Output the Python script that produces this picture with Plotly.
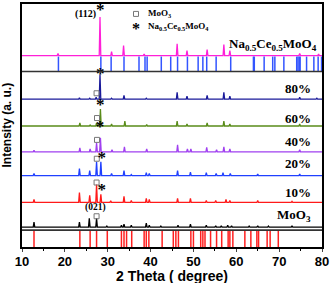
import plotly.graph_objects as go

# ---------------- data ----------------
x_ticks = [10, 20, 30, 40, 50, 60, 70, 80]

names = ["MoO3", "10%", "20%", "40%", "60%", "80%", "Na0.5Ce0.5MoO4"]
colors = ["#000000", "#ff1a1a", "#2040ff", "#a040f0", "#5a8c1a", "#1a1a9a", "#ff20d8"]
offsets = [20, 45, 72, 96, 122, 149, 193]   # vertical offsets of each pattern (a.u.)

peaks_pos = {
    "MoO3": [12.8, 23.4, 25.7, 27.4, 29.8, 33.2, 33.8, 35.5, 39.0, 39.7, 42.4, 46.4, 49.3, 53.0, 55.2, 56.5, 58.0, 58.9, 63.0, 65.0, 67.5, 73.0],
    "10%": [12.8, 23.4, 25.8, 27.4, 28.4, 30.7, 33.8, 35.5, 39.0, 39.7, 46.3, 49.3, 53.0, 55.2, 57.6, 58.5, 65.0, 73.0],
    "20%": [12.8, 23.4, 25.8, 27.4, 28.4, 30.9, 33.8, 35.5, 39.0, 39.7, 46.3, 49.3, 53.0, 55.3, 56.9, 58.6, 65.0, 74.8],
    "40%": [12.8, 23.5, 25.9, 27.4, 28.3, 31.0, 33.9, 39.1, 46.3, 48.6, 49.4, 53.1, 55.4, 57.1, 58.5, 74.8],
    "60%": [23.5, 25.9, 27.4, 28.3, 30.9, 34.0, 39.1, 46.2, 48.5, 53.2, 57.1, 58.5, 74.8],
    "80%": [23.4, 25.8, 27.3, 28.2, 30.9, 33.8, 39.0, 46.2, 48.5, 53.2, 57.1, 58.5, 74.8, 78.8],
    "Na0.5Ce0.5MoO4": [18.4, 28.2, 30.9, 33.7, 38.5, 46.2, 48.5, 53.2, 57.1, 58.5, 74.8, 79.2],
}
peaks_int = {
    "MoO3": [5, 5, 9, 9, 1, 2, 3, 2, 4, 2, 1, 2, 3, 2, 1.5, 1.5, 2, 1.5, 1, 1.5, 1, 1.5],
    "10%": [3, 10, 7, 18, 8, 1.5, 6, 2, 4, 3, 4, 4, 2, 2, 3, 2, 2, 1],
    "20%": [2, 7, 5, 14, 14, 2, 5, 1, 3, 2, 5, 3.5, 3, 2, 3, 2, 1.5, 1.5],
    "40%": [1.5, 4, 3, 9, 14, 2, 5, 3, 7, 3, 3, 4.5, 2, 5, 3, 2],
    "60%": [3, 1, 3, 17, 2, 5, 1.5, 5, 2, 3, 5, 2, 2],
    "80%": [1.5, 1, 2, 25, 1, 4, 1, 7, 3, 4, 7, 3, 2, 1],
    "Na0.5Ce0.5MoO4": [2, 39, 4, 10, 1.5, 12, 5, 6, 11, 5, 2, 1.5],
}

# reference stick patterns
ref_ncmo = [18.5, 28.4, 30.8, 33.8, 37.3, 38.7, 39.2, 42.5, 44.7, 46.3, 48.6, 51.1, 52.2, 53.1,
            55.3, 58.7, 64.0, 64.2, 66.5, 68.5, 69.0, 71.1, 74.1, 74.4, 74.7, 74.9, 76.4, 78.1, 79.1, 79.9]
ref_moo3 = [12.8, 23.5, 25.9, 27.4, 29.9, 33.2, 33.8, 34.4, 35.6, 38.5, 39.0, 39.6, 42.7,
            45.3, 45.9, 46.5, 49.4, 50.0, 51.7, 52.2, 52.7, 54.0, 55.4, 56.6, 58.1, 58.5, 59.2,
            62.0, 63.4, 64.8, 65.2, 67.2, 67.9, 69.8]

# phase markers
sq_x = [27.4, 27.4, 27.45, 27.5, 27.5, 27.4]
sq_y = [31, 65, 89, 108, 130, 155]
star_x = [28.6, 28.6, 28.2, 28.25, 28.25, 28.25]
star_y = [57, 89, 120, 142, 174, 238]

# ---------------- figure ----------------
fig = go.Figure()

W = 0.18
for name, col, off in zip(names, colors, offsets):
    xs, ys = [10], [off]
    for p, h in sorted(zip(peaks_pos[name], peaks_int[name])):
        xs += [p - W, p, p + W]
        ys += [off, off + h, off]
    xs.append(80)
    ys.append(off)
    fig.add_trace(go.Scatter(x=xs, y=ys, mode="lines", line=dict(color=col, width=1.3),
                             showlegend=False, hoverinfo="skip"))

def sticks(pos, y0, y1, col):
    xs, ys = [], []
    for p in pos:
        xs += [p, p, None]
        ys += [y0, y1, None]
    fig.add_trace(go.Scatter(x=xs, y=ys, mode="lines", line=dict(color=col, width=1.5),
                             showlegend=False, hoverinfo="skip"))

sticks(ref_ncmo, 177, 192, "#3355ff")
sticks(ref_moo3, 0, 17, "#ff2020")

# separators
for yv in [177, 17]:
    fig.add_shape(type="line", xref="paper", x0=0, x1=1, y0=yv, y1=yv,
                  line=dict(color="#333333", width=1.6))

fig.add_trace(go.Scatter(x=sq_x, y=sq_y, mode="markers",
                         marker=dict(symbol="square-open", size=5, color="#777777", line=dict(width=1)),
                         showlegend=False, hoverinfo="skip"))
fig.add_trace(go.Scatter(x=star_x, y=star_y, mode="text", text=["*"] * len(star_x), cliponaxis=False,
                         textfont=dict(family="Liberation Serif", size=17, color="black", weight="bold"),
                         textposition="middle center", showlegend=False, hoverinfo="skip"))

serif = "Liberation Serif"
def label(x, y, txt, size=12, anchor="center"):
    fig.add_annotation(x=x, y=y, text=txt, showarrow=False, xanchor=anchor, yanchor="middle",
                       font=dict(family=serif, size=size, color="black", weight="bold"))

label(77.8, 160, "80%", 13, "right")
label(77.8, 130, "60%", 13, "right")
label(77.8, 106, "40%", 13, "right")
label(77.8, 84, "20%", 13, "right")
label(77.8, 55, "10%", 13, "right")
label(78.0, 32, "MoO<sub>3</sub>", 13, "right")
label(79.4, 204, "Na<sub>0.5</sub>Ce<sub>0.5</sub>MoO<sub>4</sub>", 13, "right")
label(24.8, 235, "(112)", 10)
label(27.1, 40, "(021)", 9.5)

# legend (text)
fig.add_trace(go.Scatter(x=[36.6], y=[235], mode="markers",
                         marker=dict(symbol="square-open", size=5, color="#777777", line=dict(width=1)),
                         showlegend=False, hoverinfo="skip"))
label(38.9, 235, "MoO<sub>3</sub>", 9, "left")
fig.add_annotation(x=36.6, y=220, text="*", showarrow=False,
                   font=dict(family=serif, size=16, color="black", weight="bold"))
label(38.9, 222, "Na<sub>0.5</sub>Ce<sub>0.5</sub>MoO<sub>4</sub>", 9, "left")

fig.add_annotation(xref="paper", yref="paper", x=0, y=0.5, xanchor="right", yanchor="middle",
                   xshift=-7, text="Intensity (a. u.)", textangle=-90, showarrow=False,
                   font=dict(family="Liberation Sans", size=12, color="black", weight="bold"))
fig.add_annotation(xref="paper", yref="paper", x=0.5, y=0, xanchor="center", yanchor="middle",
                   yshift=-29, text="2 Theta ( degree)", showarrow=False,
                   font=dict(family="Liberation Sans", size=14, color="black", weight="bold"))

fig.update_layout(
    width=331, height=283,
    margin=dict(l=22, r=8, t=2, b=36),
    paper_bgcolor="white", plot_bgcolor="white",
    xaxis=dict(range=[10, 80], tickvals=x_ticks, ticks="outside", ticklen=3, tickwidth=1.3,
               ticklabelstandoff=-1,
               showline=True, linecolor="black", linewidth=1.6, mirror=True, showgrid=False,
               zeroline=False,
               tickfont=dict(family="Liberation Sans", size=13, color="black", weight="bold"),
               minor=dict(dtick=5, ticks="outside", ticklen=2, tickcolor="black")),
    yaxis=dict(range=[0, 245], showticklabels=False, ticks="", showline=True, linecolor="black",
               linewidth=1.6, mirror=True, showgrid=False, zeroline=False),
)

fig.write_html("out.html", config={"displayModeBar": False},
               post_script="document.body.style.margin='0px';")
